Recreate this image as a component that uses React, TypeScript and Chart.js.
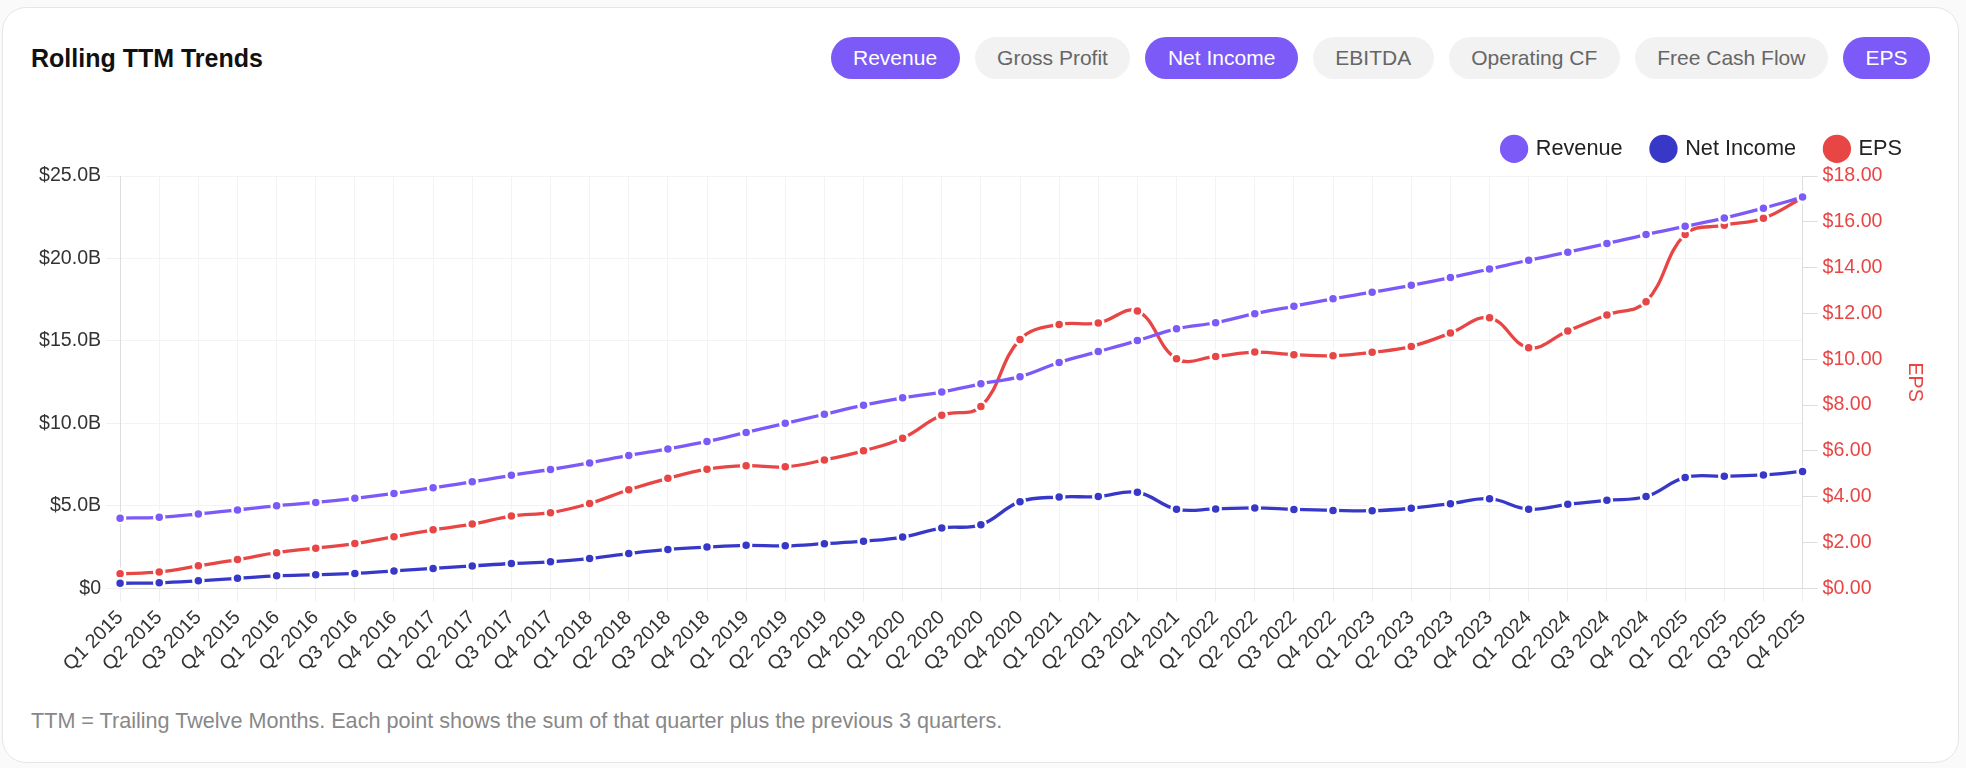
import React, { useEffect, useRef } from "react";
import { Chart, registerables } from "chart.js";

Chart.register(...registerables);

const FONT = "'Liberation Sans', Arial, Helvetica, sans-serif";

const quarters = [
  "Q1 2015", "Q2 2015", "Q3 2015", "Q4 2015",
  "Q1 2016", "Q2 2016", "Q3 2016", "Q4 2016",
  "Q1 2017", "Q2 2017", "Q3 2017", "Q4 2017",
  "Q1 2018", "Q2 2018", "Q3 2018", "Q4 2018",
  "Q1 2019", "Q2 2019", "Q3 2019", "Q4 2019",
  "Q1 2020", "Q2 2020", "Q3 2020", "Q4 2020",
  "Q1 2021", "Q2 2021", "Q3 2021", "Q4 2021",
  "Q1 2022", "Q2 2022", "Q3 2022", "Q4 2022",
  "Q1 2023", "Q2 2023", "Q3 2023", "Q4 2023",
  "Q1 2024", "Q2 2024", "Q3 2024", "Q4 2024",
  "Q1 2025", "Q2 2025", "Q3 2025", "Q4 2025",
];

// TTM revenue, billions USD
const revenueB = [
  4.25, 4.3, 4.5, 4.75, 5.0, 5.2, 5.45, 5.75,
  6.1, 6.45, 6.85, 7.2, 7.6, 8.05, 8.45, 8.9,
  9.45, 10.0, 10.55, 11.1, 11.55, 11.9, 12.4, 12.83,
  13.69, 14.35, 15.02, 15.73, 16.1, 16.65, 17.1, 17.55,
  17.95, 18.37, 18.84, 19.36, 19.89, 20.38, 20.9, 21.45,
  21.95, 22.45, 23.05, 23.72,
];

// TTM net income, billions USD
const netIncomeB = [
  0.3, 0.33, 0.45, 0.6, 0.75, 0.82, 0.9, 1.05,
  1.2, 1.35, 1.5, 1.6, 1.8, 2.1, 2.35, 2.5,
  2.6, 2.57, 2.7, 2.85, 3.1, 3.65, 3.85, 5.25,
  5.53, 5.56, 5.82, 4.79, 4.81, 4.87, 4.78, 4.72,
  4.7, 4.85, 5.13, 5.43, 4.79, 5.09, 5.33, 5.56,
  6.72, 6.79, 6.87, 7.08,
];

// TTM EPS, USD
const eps = [
  0.63, 0.71, 0.98, 1.25, 1.55, 1.75, 1.95, 2.25,
  2.55, 2.8, 3.15, 3.3, 3.7, 4.3, 4.8, 5.2,
  5.35, 5.3, 5.6, 6.0, 6.55, 7.55, 7.93, 10.86,
  11.52, 11.58, 12.1, 10.02, 10.12, 10.31, 10.2, 10.15,
  10.3, 10.56, 11.14, 11.81, 10.5, 11.23, 11.93, 12.51,
  15.45, 15.85, 16.15, 17.05,
];

const metricButtons = ["Revenue", "Gross Profit", "Net Income", "EBITDA", "Operating CF", "Free Cash Flow", "EPS"];
const activeMetrics = ["Revenue", "Net Income", "EPS"];

const leftTicks = [0, 5, 10, 15, 20, 25];
const rightTicks = [0, 2, 4, 6, 8, 10, 12, 14, 16, 18];

const PURPLE = "#7b5af8";
const BLUE = "#3838c8";
const RED = "#e84545";

const legendSpacer = {
  id: "legendSpacer",
  afterInit(chart: any) {
    patch(chart);
  },
  beforeLayout(chart: any) {
    patch(chart);
  },
};
function patch(chart: any) {
  const lg = chart.legend;
  if (lg && !lg.__spaced) {
    const orig = lg.fit;
    lg.fit = function () {
      orig.call(this);
      this.height += 6.3;
    };
    lg.__spaced = true;
  }
}

function TrendChart() {
  const ref = useRef<HTMLCanvasElement | null>(null);
  useEffect(() => {
    if (!ref.current) return;
    Chart.defaults.font.family = FONT;
    const common = {
      fill: false,
      tension: 0.4,
      borderWidth: 3.3,
      pointRadius: 5,
      pointHoverRadius: 6,
      pointBorderColor: "#ffffff",
      pointBorderWidth: 2.5,
      pointStyle: "circle" as const,
    };
    const chart = new Chart(ref.current, {
      type: "line",
      data: {
        labels: quarters,
        datasets: [
          { ...common, label: "Revenue", data: revenueB, borderColor: PURPLE, backgroundColor: PURPLE, pointBackgroundColor: PURPLE, yAxisID: "y" },
          { ...common, label: "Net Income", data: netIncomeB, borderColor: BLUE, backgroundColor: BLUE, pointBackgroundColor: BLUE, yAxisID: "y" },
          { ...common, label: "EPS", data: eps, borderColor: RED, backgroundColor: RED, pointBackgroundColor: RED, yAxisID: "y1" },
        ],
      },
      options: {
        animation: false,
        responsive: true,
        maintainAspectRatio: false,
        layout: { padding: 0 },
        plugins: {
          legend: {
            position: "top",
            align: "end",
            labels: {
              usePointStyle: true,
              pointStyle: "circle",
              boxWidth: 21.7,
              boxHeight: 20,
              padding: 30,
              color: "#222222",
              font: { size: 21.7, family: FONT },
              generateLabels: (c: any) =>
                (Chart.defaults.plugins.legend.labels as any).generateLabels(c).map((l: any) => ({
                  ...l,
                  strokeStyle: l.fillStyle,
                  lineWidth: 0,
                })),
            },
          },
          tooltip: { enabled: false },
        },
        scales: {
          x: {
            type: "category",
            offset: false,
            grid: { color: "#f3f3f3", tickColor: "#eeeeee", tickLength: 13 },
            border: { color: "#dddddd" },
            ticks: {
              color: "#333333",
              font: { size: 19.6, family: FONT },
              minRotation: 45,
              maxRotation: 45,
              autoSkip: false,
              padding: 5,
            },
          },
          y: {
            type: "linear",
            position: "left",
            min: leftTicks[0],
            max: leftTicks[leftTicks.length - 1],
            afterBuildTicks: (s: any) => {
              s.ticks = leftTicks.map((v) => ({ value: v }));
            },
            grid: { color: "#f3f3f3", tickColor: "#f0f0f0", tickLength: 14 },
            border: { color: "#dddddd" },
            ticks: {
              color: "#333333",
              font: { size: 19.6, family: FONT },
              padding: 5,
              callback: (v: any) => (Number(v) === 0 ? "$0" : "$" + Number(v).toFixed(1) + "B"),
            },
          },
          y1: {
            type: "linear",
            position: "right",
            min: rightTicks[0],
            max: rightTicks[rightTicks.length - 1],
            afterBuildTicks: (s: any) => {
              s.ticks = rightTicks.map((v) => ({ value: v }));
            },
            grid: { drawOnChartArea: false, color: "#dddddd", tickLength: 15 },
            border: { color: "#dddddd" },
            ticks: {
              color: RED,
              font: { size: 19.6, family: FONT },
              padding: 5,
              callback: (v: any) => "$" + Number(v).toFixed(2),
            },
            title: {
              display: true,
              text: "EPS",
              color: RED,
              font: { size: 19.6, family: FONT },
              padding: { top: 6, bottom: 15 },
            },
          },
        },
      },
      plugins: [legendSpacer as any],
    });
    return () => chart.destroy();
  }, []);
  return <canvas ref={ref} />;
}

export default function App() {
  useEffect(() => {
    document.body.style.margin = "0";
    document.body.style.background = "#fafafa";
  }, []);
  return (
    <div style={{ position: "relative", width: 1966, height: 768, fontFamily: FONT }}>
      <div
        style={{
          position: "absolute",
          left: 2,
          top: 7,
          width: 1957,
          height: 756,
          boxSizing: "border-box",
          border: "1px solid #e6e6e6",
          borderRadius: 24,
          background: "#ffffff",
        }}
      >
        <div
          style={{
            position: "absolute",
            left: 28,
            top: 29,
            height: 42,
            lineHeight: "42px",
            fontSize: 25,
            fontWeight: 700,
            color: "#111111",
          }}
        >
          Rolling TTM Trends
        </div>
        <div
          style={{
            position: "absolute",
            right: 28,
            top: 29,
            display: "flex",
            gap: 15,
          }}
        >
          {metricButtons.map((b) => {
            const on = activeMetrics.includes(b);
            return (
              <div
                key={b}
                style={{
                  height: 42,
                  lineHeight: "42px",
                  padding: "0 22.5px",
                  borderRadius: 21,
                  fontSize: 21,
                  background: on ? PURPLE : "#f2f2f2",
                  color: on ? "#ffffff" : "#666666",
                  whiteSpace: "nowrap",
                }}
              >
                {b}
              </div>
            );
          })}
        </div>
        <div style={{ position: "absolute", left: 31, top: 99.5, width: 1898, height: 573 }}>
          <TrendChart />
        </div>
        <div
          style={{
            position: "absolute",
            left: 28,
            top: 701,
            lineHeight: "24px",
            fontSize: 21.6,
            color: "#888888",
            whiteSpace: "nowrap",
          }}
        >
          TTM = Trailing Twelve Months. Each point shows the sum of that quarter plus the previous 3 quarters.
        </div>
      </div>
    </div>
  );
}
